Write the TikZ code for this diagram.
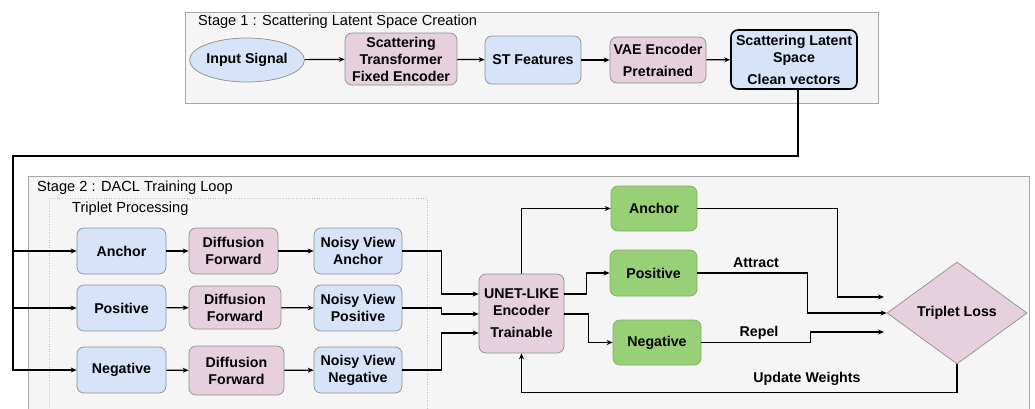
\documentclass[tikz,border=0pt]{standalone}
\usepackage{fontspec}
\setmainfont{Liberation Sans}
\usetikzlibrary{shapes.geometric,arrows.meta}
\definecolor{cblue}{HTML}{D6E3F8}
\definecolor{cpink}{HTML}{E6D0DE}
\definecolor{cgreen}{HTML}{97D077}
\definecolor{cbg}{HTML}{F5F5F5}
\definecolor{cframe}{HTML}{A6A6A6}
\definecolor{cnodeb}{HTML}{8F8F8F}
\definecolor{cgreenb}{HTML}{7FAF63}
\tikzset{
  base/.style={rounded corners=7pt, draw=cnodeb, line width=0.7pt, inner sep=0pt, align=center,
    font=\fontsize{14.2}{17}\selectfont\bfseries},
  bluebox/.style={base, fill=cblue},
  pinkbox/.style={base, fill=cpink},
  greenbox/.style={base, fill=cgreen, draw=cgreenb},
  conn/.style={line width=1.2pt, -{Stealth[length=6pt,width=5pt]}},
  connthick/.style={line width=1.9pt, -{Stealth[length=6pt,width=5pt]}},
  title/.style={anchor=west, inner sep=0pt, font=\fontsize{14.6}{17}\selectfont},
  lbl/.style={inner sep=0pt, font=\fontsize{14.2}{17}\selectfont\bfseries},
  frame/.style={fill=cbg, draw=cframe, line width=0.8pt}
}
\begin{document}
\begin{tikzpicture}[x=1pt,y=-1pt]
\useasboundingbox (0,0) rectangle (1035,408);
\clip (0,0) rectangle (1035,408);
% frames
\draw[frame] (185,12) rectangle (878,103);
\draw[frame] (28,176) rectangle (1029,430);
\draw[fill=cbg, draw=cframe!70, dotted, line width=0.6pt] (49,198) rectangle (427,430);
\node[title] (t1) at (198,22) {Stage 1 : Scattering Latent Space Creation};
\node[title] (t2) at (37,188) {Stage 2 : DACL Training Loop};
\node[title] (t3) at (72,209) {Triplet Processing};
% stage 1
\node[ellipse, draw=cnodeb, fill=cblue, line width=0.7pt, inner sep=0pt, minimum width=98pt, minimum height=44pt,
  font=\fontsize{14.2}{17}\selectfont\bfseries] (in) at (247,60) {Input Signal};
\node[pinkbox, minimum width=112pt, minimum height=52pt] (st) at (401,59) {Scattering\\Transformer\\Fixed Encoder};
\node[bluebox, minimum width=96pt, minimum height=48pt] (stf) at (533,60) {ST Features};
\node[pinkbox, minimum width=96pt, minimum height=46pt] (vae) at (658,60) {VAE Encoder\\[5pt]Pretrained};
\node[bluebox, draw=black, line width=1.6pt, minimum width=126pt, minimum height=59pt] (lat) at (794,59.5) {Scattering Latent\\Space\\[5pt]Clean vectors};
\draw[conn] (in) -- (st);
\draw[conn] (st) -- (stf);
\draw[conn] (stf) -- (vae);
\draw[conn] (vae) -- (lat);
% stage 2 triplet
\node[bluebox, minimum width=89pt, minimum height=46pt] (a1) at (121.5,251) {Anchor};
\node[pinkbox, minimum width=89pt, minimum height=46pt] (d1) at (233.5,251) {Diffusion\\Forward};
\node[bluebox, minimum width=88pt, minimum height=46pt] (n1) at (358,251) {Noisy View\\Anchor};
\node[bluebox, minimum width=89pt, minimum height=46pt] (a2) at (121.5,308) {Positive};
\node[pinkbox, minimum width=92pt, minimum height=43pt] (d2) at (235,307.5) {Diffusion\\Forward};
\node[bluebox, minimum width=88pt, minimum height=46pt] (n2) at (358,308) {Noisy View\\Positive};
\node[bluebox, minimum width=89pt, minimum height=46pt] (a3) at (121.5,370) {Negative};
\node[pinkbox, minimum width=95pt, minimum height=49pt] (d3) at (236.5,370.5) {Diffusion\\Forward};
\node[bluebox, minimum width=88pt, minimum height=46pt] (n3) at (358,370) {Noisy View\\Negative};
% encoder and outputs
\node[pinkbox, minimum width=85pt, minimum height=79pt] (unet) at (521.5,313.5) {UNET-LIKE\\Encoder\\[5pt]Trainable};
\node[greenbox, minimum width=86pt, minimum height=45pt] (ga) at (654,208.5) {Anchor};
\node[greenbox, minimum width=87pt, minimum height=46pt] (gp) at (653.5,273) {Positive};
\node[greenbox, minimum width=88pt, minimum height=45pt] (gn) at (657,342.5) {Negative};
\node[diamond, draw=cnodeb, fill=cpink, line width=0.7pt, inner sep=0pt, minimum width=140pt, minimum height=102pt,
  font=\fontsize{14.2}{17}\selectfont\bfseries] (loss) at (957,313) {Triplet Loss};
% connectors
\coordinate (jtop) at (13,156);
\draw[connthick] ([xshift=4pt]lat.south) |- (jtop) |- (a3.west);
\draw[conn] (jtop |- a1.west) -- (a1.west);
\draw[conn] (jtop |- a2.west) -- (a2.west);
\draw[conn] (a1) -- (d1);
\draw[conn] (d1) -- (n1);
\draw[conn] (a2) -- (d2);
\draw[conn] (d2) -- (n2);
\draw[conn] (a3) -- (d3);
\draw[conn] (d3) -- (n3);
\draw[conn] (n1.east) -- ++(39,0) |- ([yshift=19.5pt]unet.west);
\draw[conn] (n2.east) -- ++(39,0) |- ([yshift=-0.5pt]unet.west);
\draw[conn] (n3.east) -- ++(39,0) |- ([yshift=-19.5pt]unet.west);
\draw[conn] (unet.north) |- (ga.west);
\draw[conn] ([yshift=19.5pt]unet.east) -- ++(22,0) |- (gp.west);
\draw[conn] ([yshift=-0.5pt]unet.east) -- ++(24,0) |- (gn.west);
\coordinate (la) at (884,297);
\coordinate (lr) at (884,332);
\draw[conn] (ga.east) -- ++(140,0) |- (la);
\draw[conn] (gp.east) -- ++(110,0) |- (loss.west);
\draw[conn] (gn.east) -- ++(109,0) |- (lr);
\draw[conn] (loss.south) -- ++(0,28.5) -| (unet.south);
\node[lbl] (attract) at (756,263) {Attract};
\node[lbl] (repel) at (759,333) {Repel};
\node[lbl] (upd) at (807,379) {Update Weights};
\end{tikzpicture}
\end{document}
